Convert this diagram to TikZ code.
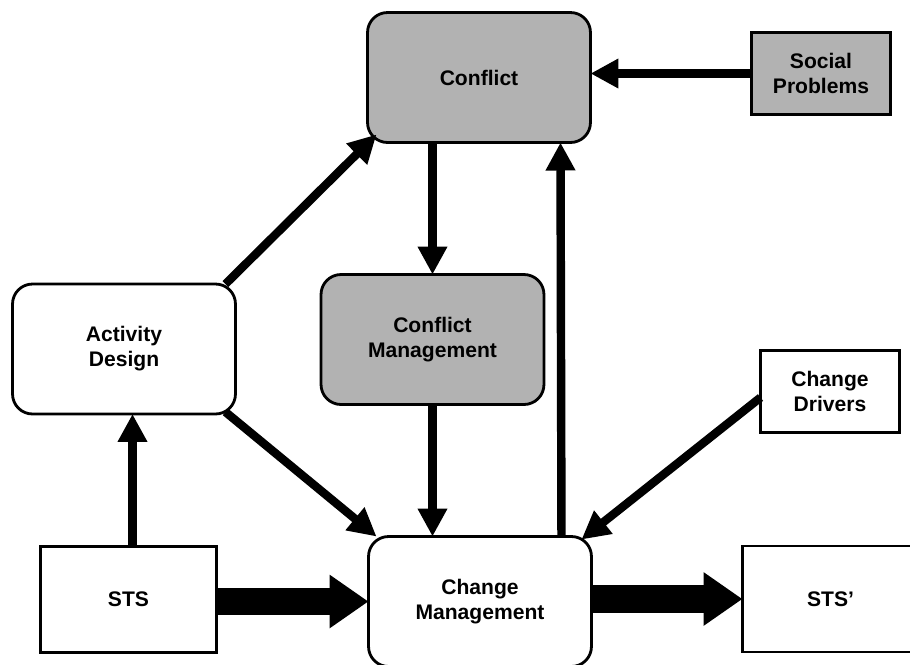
\documentclass[tikz,border=0pt]{standalone}
\usepackage{fontspec}
\setmainfont{Liberation Sans}
\usetikzlibrary{positioning,arrows.meta,calc}
\tikzstyle{rb}=[draw,rounded corners=0.4cm,line width=1.6pt,inner sep=0pt,outer sep=0pt,minimum width=4.46cm,minimum height=2.6cm]
\tikzstyle{sq}=[draw,line width=1.6pt,inner sep=0pt,outer sep=0pt,minimum width=2.78cm,minimum height=1.64cm]
\tikzstyle{sys}=[sq,minimum width=3.52cm,minimum height=2.12cm]
\tikzstyle{fat}=[line width=15.9pt,-{Triangle[length=7.8mm,width=10.2mm]}]

\begin{document}
\begin{tikzpicture}[x=0.02cm,y=0.02cm,%
  every node/.style={font=\fontsize{12}{14.2}\selectfont\bfseries,align=center},%
  every edge/.style={draw,line width=4.8pt,-{Triangle[length=5.6mm,width=5.6mm]}}]
\useasboundingbox (0,0) rectangle (910,-664);
\node[rb,fill=black!30](conflict)at(479,-77.5){Conflict};
\node[sq,fill=black!30](social)at(821,-73.5){Social\\Problems};
\node[rb](ad)at(124,-349){Activity\\Design};
\node[rb,fill=black!30](cmgmt)at(432.5,-339.5){Conflict\\Management};
\node[sq](drivers)at(830,-391.5){Change\\Drivers};
\node[sys](sts)at(128.5,-599.5){STS};
\node[rb](change)at(480,-601.5){Change\\Management};
\node[sys](stsp)at(830.5,-599){STS'};
\draw
  (social.west) edge (social.west -| conflict.east)
  (conflict.south -| cmgmt) edge (cmgmt.north)
  (cmgmt.south) edge (cmgmt.south |- change.north)
  ($(change.north east)+(-30,0)$) edge ($(conflict.south east)+(-30,0)$)
  ($(sts.north)+(4,0)$) edge ($(sts.north |- ad.south)+(4,0)$)
  ($(ad.north east)+(-10,0)$) edge ($(conflict.south west)+(9,8)$)
  ($(ad.south east)+(-10,2)$) edge ($(change.north west)+(8,0)$)
  ($(drivers.west)+(0,-6)$) edge ($(change.north east)+(-10,-3)$)
  (sts.east |- change.west) edge[fat] (change.west)
  (change.east |- stsp.west) edge[fat] (stsp.west);
\end{tikzpicture}
\end{document}
